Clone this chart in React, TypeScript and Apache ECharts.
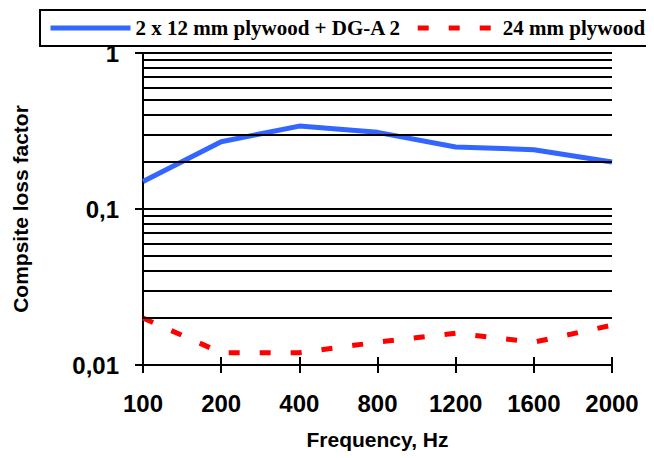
import React, { useEffect, useRef } from "react";
import * as echarts from "echarts";

const categories = ["100", "200", "400", "800", "1200", "1600", "2000"];
const plywoodDG = [0.15, 0.27, 0.34, 0.31, 0.25, 0.24, 0.2];
const plywood24 = [0.02, 0.012, 0.012, 0.014, 0.016, 0.014, 0.018];
const minorGridValues = [
  0.02, 0.03, 0.04, 0.05, 0.06, 0.07, 0.08, 0.09,
  0.2, 0.3, 0.4, 0.5, 0.6, 0.7, 0.8, 0.9,
];
const seriesNames = ["2 x 12 mm plywood + DG-A 2", "24 mm plywood"];

const SANS = "'Liberation Sans', Arial, sans-serif";
const SERIF = "'Liberation Serif', 'Times New Roman', serif";

export default function App() {
  const ref = useRef<HTMLDivElement>(null);
  useEffect(() => {
    if (!ref.current) return;
    const chart = echarts.init(ref.current, null, { renderer: "svg" });
    const yLabel = (v: number) => {
      const e = Math.round(Math.log10(v));
      if (e === 0) return "1";
      if (e === -1) return "0,1";
      return "0,01";
    };
    chart.setOption({
      animation: false,
      textStyle: { fontFamily: SANS },
      legend: {
        data: seriesNames,
        left: 40,
        top: 10,
        padding: [7, 8],
        itemGap: 14,
        itemWidth: 80,
        itemHeight: 14,
        borderColor: "#000",
        borderWidth: 2,
        borderRadius: 0,
        backgroundColor: "#fff",
        itemStyle: { opacity: 0, borderWidth: 0 },
        lineStyle: { width: 5 },
        textStyle: {
          fontFamily: SERIF,
          fontWeight: "bold",
          fontSize: 21,
          color: "#000",
          lineHeight: 22,
        },
      },
      grid: { left: 143, right: 42, top: 53, bottom: 93, containLabel: false },
      xAxis: [
        {
          type: "category",
          data: categories,
          boundaryGap: false,
          position: "bottom",
          axisLine: { onZero: false, lineStyle: { color: "#000", width: 2 } },
          axisTick: { show: true, length: 8, lineStyle: { color: "#000", width: 2 } },
          axisLabel: { fontSize: 24, fontWeight: "bold", color: "#000", margin: 26, fontFamily: SANS },
          splitLine: { show: false },
          name: "Frequency, Hz",
          nameLocation: "middle",
          nameGap: 64,
          nameTextStyle: { fontSize: 21, fontWeight: "bold", color: "#000", fontFamily: SANS },
        },
        {
          type: "category",
          data: categories,
          boundaryGap: false,
          position: "bottom",
          axisLine: { show: false, onZero: false },
          axisTick: { show: true, inside: true, length: 8, lineStyle: { color: "#000", width: 2 } },
          axisLabel: { show: false },
          splitLine: { show: false },
        },
      ],
      yAxis: [
        {
          type: "log",
          logBase: 10,
          min: 0.01,
          max: 1,
          position: "left",
          axisLine: { show: true, lineStyle: { color: "#000", width: 2 } },
          axisTick: { show: true, length: 8, lineStyle: { color: "#000", width: 2 } },
          axisLabel: {
            formatter: yLabel,
            fontSize: 24,
            fontWeight: "bold",
            color: "#000",
            margin: 24,
            fontFamily: SANS,
          },
          splitLine: { show: true, lineStyle: { color: "#000", width: 2 } },
          name: "Compsite loss factor",
          nameLocation: "middle",
          nameRotate: 90,
          nameGap: 112,
          nameTextStyle: { fontSize: 21, fontWeight: "bold", color: "#000", fontFamily: SANS },
        },
        {
          type: "log",
          logBase: 10,
          min: 0.01,
          max: 1,
          position: "left",
          axisLine: { show: false },
          axisTick: { show: true, inside: true, length: 7, lineStyle: { color: "#000", width: 2 } },
          axisLabel: { show: false },
          splitLine: { show: false },
        },
      ],
      series: [
        {
          name: "grid",
          type: "line",
          z: 1,
          data: categories.map(() => "-"),
          symbol: "none",
          silent: true,
          markLine: {
            silent: true,
            symbol: ["none", "none"],
            label: { show: false },
            lineStyle: { color: "#000", width: 2, type: "solid" },
            data: minorGridValues.map((v) => ({ yAxis: v })),
          },
        },
        {
          name: seriesNames[0],
          type: "line",
          z: 3,
          data: plywoodDG,
          symbol: "none",
          lineStyle: { color: "#3366FF", width: 5, type: "solid" },
          itemStyle: { color: "#3366FF" },
        },
        {
          name: seriesNames[1],
          type: "line",
          z: 3,
          data: plywood24,
          symbol: "none",
          lineStyle: { color: "#FF0000", width: 5, type: [11, 20], cap: "butt" },
          itemStyle: { color: "#FF0000" },
        },
      ],
    });
    return () => chart.dispose();
  }, []);
  return <div ref={ref} style={{ width: 654, height: 458, marginLeft: -8, marginTop: -8 }} />;
}
